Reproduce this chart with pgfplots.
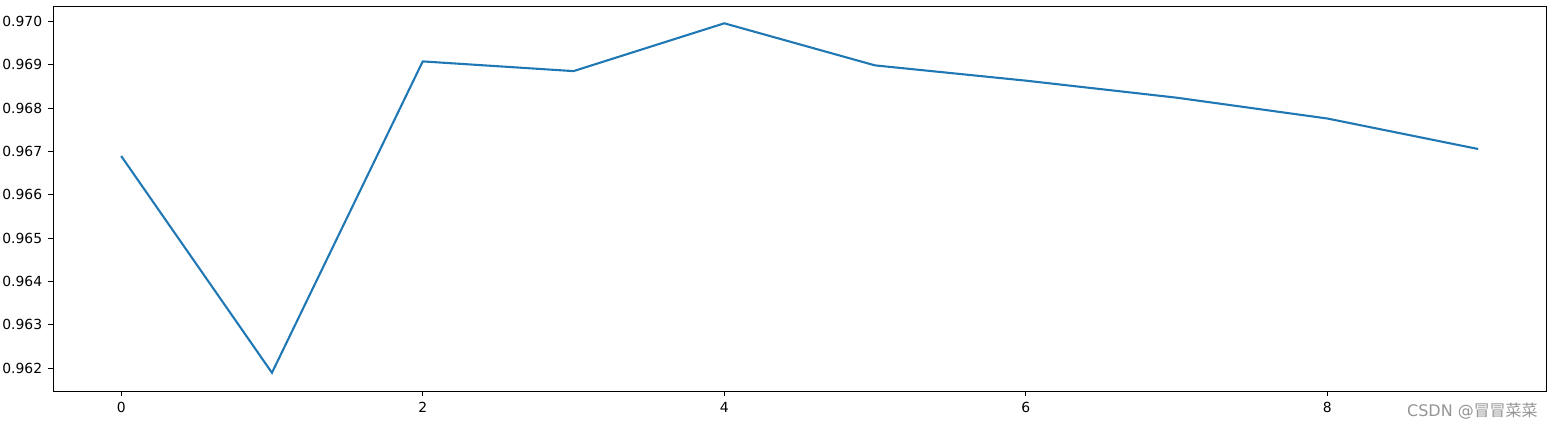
\documentclass[border=0pt]{standalone}
\usepackage{pgfplots}
\pgfplotsset{compat=1.18}
\usepackage{fontspec}
\setmainfont{DejaVu Sans}
\newfontfamily\cjk{Noto Sans CJK SC}
\definecolor{mplblue}{HTML}{1F77B4}
\begin{document}
\begin{tikzpicture}
\begin{axis}[
  name=ax,
  scale only axis,
  width=1074.7pt, height=277.2pt,
  xmin=-0.45, xmax=9.45,
  ymin=0.961470, ymax=0.970354,
  xtick={0,2,4,6,8},
  ytick={0.962,0.963,0.964,0.965,0.966,0.967,0.968,0.969,0.970},
  yticklabel style={/pgf/number format/fixed, /pgf/number format/fixed zerofill, /pgf/number format/precision=3, xshift=-1pt},
  scaled y ticks=false,
  /pgf/number format/assume math mode=true,
  tick align=outside,
  major tick length=3.5pt,
  tick style={black, line width=0.6pt},
  xtick pos=bottom, ytick pos=left,
  axis line style={black, line width=0.6pt},
  ticklabel style={font=\fontsize{10}{12}\selectfont},
  xticklabel style={yshift=-1pt},
]
\addplot[mplblue, line width=1.5pt, mark=none] coordinates {
(0,0.966892) (1,0.961891) (2,0.969075) (3,0.968851) (4,0.969954)
(5,0.968983) (6,0.968631) (7,0.968238) (8,0.967757) (9,0.967054)
};
\end{axis}
\node[text=black!42, anchor=center, font=\fontsize{11.5}{13}\selectfont] at ([xshift=-53pt, yshift=-14.4pt]ax.south east) {CSDN @{\cjk 冒冒菜菜}};
\pgfresetboundingbox
\path ([xshift=-38.4pt, yshift=-26.6pt]ax.south west) rectangle ([xshift=7.2pt, yshift=4.3pt]ax.north east);
\end{tikzpicture}
\end{document}
